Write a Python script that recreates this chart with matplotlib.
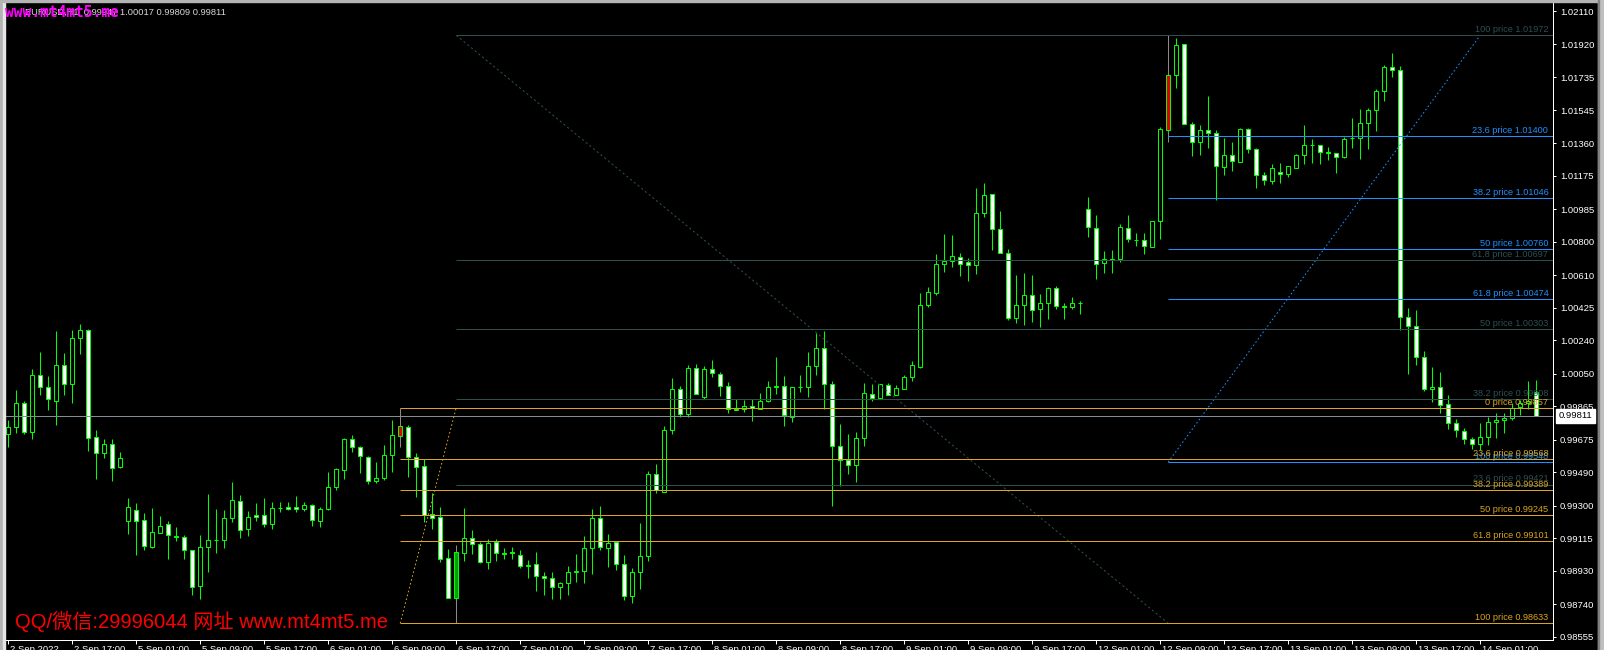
import matplotlib
matplotlib.use('Agg')
import matplotlib.pyplot as plt
from matplotlib.patches import Rectangle
from matplotlib.transforms import ScaledTranslation

plt.rcParams['font.family'] = ['Liberation Sans', 'Noto Sans CJK SC', 'DejaVu Sans']

# EURUSD H1, one row per bar: open, high, low, close
opens = [0.99706, 0.99748, 0.99882, 0.99721, 1.00041, 0.99973, 0.99897, 1.00098, 0.99990, 1.00251,
         1.00298, 0.99689, 0.99598, 0.99649, 0.99519, 0.99212, 0.99276, 0.99218, 0.99068, 0.99148,
         0.99195, 0.99127, 0.99121, 0.99047, 0.98843, 0.99064, 0.99104, 0.99104, 0.99229, 0.99325,
         0.99166, 0.99246, 0.99246, 0.99195, 0.99286, 0.99295, 0.99295, 0.99280, 0.99303, 0.99214,
         0.99284, 0.99405, 0.99502, 0.99678, 0.99632, 0.99579, 0.99439, 0.99456, 0.99587, 0.99697,
         0.99750, 0.99575, 0.99526, 0.99252, 0.99235, 0.99002, 0.98775, 0.99034, 0.99115, 0.99081,
         0.98983, 0.99093, 0.99030, 0.99036, 0.99019, 0.98960, 0.98968, 0.98901, 0.98888, 0.98837,
         0.98860, 0.98926, 0.98928, 0.99059, 0.99229, 0.99059, 0.99093, 0.98968, 0.98788, 0.98922,
         0.99013, 0.99481, 0.99380, 0.99729, 0.99962, 0.99820, 1.00081, 0.99916, 1.00075, 1.00047,
         0.99979, 0.99844, 0.99848, 0.99869, 0.99852, 0.99893, 0.99973, 0.99979, 0.99806, 0.99975,
         0.99977, 1.00092, 1.00194, 0.99990, 0.99642, 0.99558, 0.99530, 0.99683, 0.99933, 0.99914,
         0.99984, 0.99929, 0.99962, 1.00032, 1.00090, 1.00439, 1.00511, 1.00671, 1.00688, 1.00715,
         1.00683, 1.00666, 1.00961, 1.01069, 1.00870, 1.00734, 1.00365, 1.00439, 1.00495, 1.00416,
         1.00450, 1.00535, 1.00435, 1.00431, 1.00450, 1.00984, 1.00876, 1.00677, 1.00698, 1.00700,
         1.00876, 1.00808, 1.00810, 1.00772, 1.00916, 1.01434, 1.01745, 1.01920, 1.01466, 1.01364,
         1.01434, 1.01415, 1.01222, 1.01292, 1.01251, 1.01438, 1.01324, 1.01177, 1.01147, 1.01196,
         1.01182, 1.01217, 1.01292, 1.01347, 1.01347, 1.01309, 1.01302, 1.01281, 1.01387, 1.01387,
         1.01472, 1.01548, 1.01656, 1.01790, 1.01773, 1.00370, 1.00321, 1.00147, 0.99962, 0.99977,
         0.99876, 0.99768, 0.99725, 0.99678, 0.99649, 0.99689, 0.99774, 0.99787, 0.99797, 0.99860,
         0.99882, 0.99947]
highs = [0.99787, 0.99958, 0.99895, 1.00077, 1.00174, 1.00037, 1.00293, 1.00168, 1.00298, 1.00334,
         1.00302, 0.99731, 0.99679, 0.99679, 0.99606, 0.99343, 0.99314, 0.99257, 0.99286, 0.99242,
         0.99214, 0.99180, 0.99132, 0.99050, 0.99134, 0.99367, 0.99280, 0.99276, 0.99435, 0.99361,
         0.99271, 0.99314, 0.99343, 0.99322, 0.99322, 0.99322, 0.99356, 0.99324, 0.99310, 0.99291,
         0.99492, 0.99513, 0.99687, 0.99702, 0.99642, 0.99583, 0.99549, 0.99645, 0.99787, 0.99857,
         0.99759, 0.99598, 0.99564, 0.99371, 0.99293, 0.99053, 0.99077, 0.99288, 0.99163, 0.99096,
         0.99110, 0.99110, 0.99060, 0.99066, 0.99049, 0.98992, 0.99038, 0.98924, 0.98924, 0.98869,
         0.98958, 0.99026, 0.99129, 0.99282, 0.99299, 0.99140, 0.99096, 0.99021, 0.98949, 0.99202,
         0.99496, 0.99537, 0.99753, 1.00024, 0.99980, 1.00100, 1.00105, 1.00094, 1.00128, 1.00062,
         1.00003, 0.99907, 0.99901, 0.99909, 0.99939, 1.00009, 1.00145, 1.00035, 0.99973, 1.00043,
         1.00174, 1.00283, 1.00291, 1.00011, 0.99765, 0.99708, 0.99719, 0.99998, 0.99992, 0.99992,
         0.99998, 0.99986, 1.00043, 1.00121, 1.00507, 1.00541, 1.00730, 1.00844, 1.00838, 1.00736,
         1.00706, 1.01103, 1.01133, 1.01071, 1.00974, 1.00759, 1.00611, 1.00620, 1.00611, 1.00503,
         1.00543, 1.00548, 1.00450, 1.00484, 1.00463, 1.01054, 1.00952, 1.00747, 1.00755, 1.00900,
         1.00950, 1.00847, 1.00847, 1.00918, 1.01449, 1.01974, 1.01955, 1.01925, 1.01482, 1.01463,
         1.01627, 1.01434, 1.01391, 1.01366, 1.01444, 1.01448, 1.01334, 1.01194, 1.01241, 1.01245,
         1.01232, 1.01296, 1.01461, 1.01381, 1.01349, 1.01336, 1.01306, 1.01396, 1.01501, 1.01555,
         1.01557, 1.01665, 1.01803, 1.01873, 1.01798, 1.00422, 1.00412, 1.00179, 1.00086, 1.00060,
         0.99929, 0.99791, 0.99740, 0.99693, 0.99768, 0.99806, 0.99829, 0.99829, 0.99886, 0.99901,
         1.00009, 1.00017]
lows = [0.99636, 0.99715, 0.99708, 0.99678, 0.99929, 0.99844, 0.99759, 0.99929, 0.99886, 1.00162,
        0.99613, 0.99452, 0.99573, 0.99443, 0.99512, 0.99140, 0.99021, 0.99049, 0.99060, 0.99144,
        0.99000, 0.99100, 0.99000, 0.98792, 0.98773, 0.98926, 0.99034, 0.99062, 0.99210, 0.99119,
        0.99131, 0.99216, 0.99182, 0.99170, 0.99267, 0.99276, 0.99267, 0.99272, 0.99185, 0.99180,
        0.99278, 0.99390, 0.99450, 0.99608, 0.99488, 0.99422, 0.99432, 0.99447, 0.99490, 0.99636,
        0.99466, 0.99352, 0.99210, 0.99168, 0.98983, 0.98775, 0.98633, 0.98989, 0.99026, 0.98977,
        0.98943, 0.98989, 0.98998, 0.99000, 0.98949, 0.98892, 0.98818, 0.98795, 0.98769, 0.98769,
        0.98792, 0.98867, 0.98864, 0.98911, 0.99047, 0.98951, 0.98936, 0.98765, 0.98746, 0.98826,
        0.98987, 0.99375, 0.99380, 0.99708, 0.99806, 0.99806, 0.99933, 0.99905, 1.00033, 0.99926,
        0.99825, 0.99844, 0.99835, 0.99784, 0.99852, 0.99891, 0.99935, 0.99753, 0.99778, 0.99948,
        0.99920, 1.00043, 0.99848, 0.99301, 0.99414, 0.99481, 0.99437, 0.99642, 0.99897, 0.99905,
        0.99927, 0.99929, 0.99962, 1.00011, 1.00081, 1.00431, 1.00499, 1.00628, 1.00658, 1.00607,
        1.00579, 1.00617, 1.00942, 1.00755, 1.00734, 1.00355, 1.00340, 1.00327, 1.00346, 1.00317,
        1.00363, 1.00420, 1.00363, 1.00418, 1.00391, 1.00829, 1.00590, 1.00624, 1.00624, 1.00687,
        1.00796, 1.00777, 1.00732, 1.00772, 1.00815, 1.01368, 1.01673, 1.01466, 1.01288, 1.01292,
        1.01334, 1.01037, 1.01179, 1.01201, 1.01251, 1.01306, 1.01107, 1.01120, 1.01126, 1.01131,
        1.01169, 1.01217, 1.01239, 1.01245, 1.01239, 1.01264, 1.01192, 1.01273, 1.01330, 1.01268,
        1.01324, 1.01430, 1.01601, 1.01737, 1.00298, 1.00047, 1.00098, 0.99952, 0.99888, 0.99829,
        0.99734, 0.99693, 0.99649, 0.99623, 0.99617, 0.99645, 0.99683, 0.99712, 0.99790, 0.99816,
        0.99848, 0.99809]
closes = [0.99746, 0.99882, 0.99721, 1.00041, 0.99973, 0.99905, 1.00098, 0.99990, 1.00251, 1.00298,
          0.99683, 0.99598, 0.99649, 0.99513, 0.99570, 0.99295, 0.99212, 0.99074, 0.99149, 0.99187,
          0.99132, 0.99123, 0.99047, 0.98837, 0.99064, 0.99104, 0.99106, 0.99229, 0.99331, 0.99163,
          0.99235, 0.99235, 0.99197, 0.99286, 0.99288, 0.99284, 0.99282, 0.99303, 0.99218, 0.99280,
          0.99409, 0.99507, 0.99678, 0.99632, 0.99581, 0.99439, 0.99456, 0.99587, 0.99700, 0.99753,
          0.99575, 0.99522, 0.99250, 0.99233, 0.98996, 0.98775, 0.99036, 0.99115, 0.99081, 0.98983,
          0.99087, 0.99030, 0.99028, 0.99030, 0.98960, 0.98966, 0.98900, 0.98888, 0.98837, 0.98860,
          0.98922, 0.98930, 0.99059, 0.99229, 0.99064, 0.99089, 0.98968, 0.98788, 0.98922, 0.99013,
          0.99481, 0.99388, 0.99729, 0.99962, 0.99820, 1.00081, 0.99933, 1.00075, 1.00052, 0.99979,
          0.99850, 0.99848, 0.99869, 0.99856, 0.99893, 0.99973, 0.99979, 0.99816, 0.99973, 0.99977,
          1.00092, 1.00194, 0.99990, 0.99642, 0.99558, 0.99530, 0.99683, 0.99939, 0.99914, 0.99990,
          0.99927, 0.99967, 1.00032, 1.00098, 1.00439, 1.00512, 1.00671, 1.00688, 1.00717, 1.00671,
          1.00666, 1.00961, 1.01063, 1.00870, 1.00734, 1.00365, 1.00439, 1.00495, 1.00410, 1.00450,
          1.00535, 1.00435, 1.00431, 1.00450, 1.00454, 1.00885, 1.00671, 1.00700, 1.00700, 1.00882,
          1.00813, 1.00810, 1.00774, 1.00916, 1.01438, 1.01747, 1.01917, 1.01466, 1.01364, 1.01434,
          1.01415, 1.01230, 1.01292, 1.01258, 1.01438, 1.01326, 1.01177, 1.01150, 1.01217, 1.01182,
          1.01230, 1.01292, 1.01347, 1.01349, 1.01309, 1.01306, 1.01281, 1.01383, 1.01391, 1.01472,
          1.01548, 1.01656, 1.01790, 1.01773, 1.00374, 1.00321, 1.00143, 0.99962, 0.99977, 0.99873,
          0.99768, 0.99731, 0.99678, 0.99649, 0.99689, 0.99774, 0.99787, 0.99797, 0.99857, 0.99882,
          0.99895, 0.99811]

# bars that carry object anchors are painted differently
marked_bars = {49: '#e00000', 56: '#00a000', 145: '#e00000'}

time_labels = ['2 Sep 2022', '2 Sep 17:00', '5 Sep 01:00', '5 Sep 09:00', '5 Sep 17:00',
               '6 Sep 01:00', '6 Sep 09:00', '6 Sep 17:00', '7 Sep 01:00', '7 Sep 09:00',
               '7 Sep 17:00', '8 Sep 01:00', '8 Sep 09:00', '8 Sep 17:00', '9 Sep 01:00',
               '9 Sep 09:00', '9 Sep 17:00', '12 Sep 01:00', '12 Sep 09:00', '12 Sep 17:00',
               '13 Sep 01:00', '13 Sep 09:00', '13 Sep 17:00', '14 Sep 01:00']
price_ticks = [1.02110, 1.01920, 1.01735, 1.01545, 1.01360, 1.01175, 1.00985, 1.00800, 1.00610,
               1.00425, 1.00240, 1.00050, 0.99865, 0.99675, 0.99490, 0.99300, 0.99115, 0.98930,
               0.98740, 0.98555]
bid = 0.99811

# fibonacci objects: (level name, price)
gray_levels = [('100', 1.01972), ('61.8', 1.00697), ('50', 1.00303), ('38.2', 0.99908), ('23.6', 0.99421)]
gray_anchor = [(56, 1.01972), (145, 0.98633)]
orange_levels = [('0', 0.99857), ('23.6', 0.99568), ('38.2', 0.99389), ('50', 0.99245),
                 ('61.8', 0.99101), ('100', 0.98633)]
orange_anchor = [(49, 0.98633), (56, 0.99857)]
blue_levels = [('23.6', 1.01400), ('38.2', 1.01046), ('50', 1.00760), ('61.8', 1.00474), ('100', 0.99548)]
blue_anchor = [(145, 0.99548), (184, 1.01972)]

W, H = 1604, 650
fig = plt.figure(figsize=(W / 100, H / 100), dpi=100, facecolor='black')
ax = fig.add_axes([5 / W, 10 / H, 1548 / W, 637 / H])
ax.set_facecolor('black')
ax.set_xlim(-0.4, 193.1)
ax.set_ylim(0.985379, 1.021555)

lime = '#00ff00'
px = 0.72  # one pixel in points

# candles
for i in range(len(opens)):
    o, h, l, c = opens[i], highs[i], lows[i], closes[i]
    wick_col = '#8a8a8a' if i in marked_bars else lime
    ax.vlines(i, l, h, color=wick_col, lw=px, zorder=2)
    if i in marked_bars:
        fill = marked_bars[i]
    elif c > o:
        fill = 'black'
    else:
        fill = 'white'
    ax.bar(i, max(abs(c - o), 1e-6), bottom=min(o, c), width=0.45, color=fill,
           edgecolor=lime, linewidth=px, zorder=3)

ytr = ax.get_yaxis_transform()


def fib(levels, anchor, color, z, dash):
    x0 = min(anchor[0][0], anchor[1][0])
    for name, p in levels:
        ax.hlines(p, x0, 200, color=color, lw=px, zorder=z)
        ax.annotate(f'{name} price {p:.5f}', xy=(1, p), xycoords=ytr, xytext=(-3.4, 2.2),
                    textcoords='offset points', ha='right', va='baseline', fontsize=6.6,
                    color=color, zorder=z, annotation_clip=False)
    ax.plot([anchor[0][0], anchor[1][0]], [anchor[0][1], anchor[1][1]], color=color,
            lw=px, ls=dash, zorder=z)


fib(blue_levels, blue_anchor, '#1e90ff', 5, (0, (1.6, 2.4)))
fib(gray_levels, gray_anchor, '#2f4f4f', 6, (0, (2.2, 2.6)))
fib(orange_levels, orange_anchor, '#daa520', 7, (0, (1.6, 2.4)))

ax.axhline(bid, color='#848c94', lw=px, zorder=4)

# axes look
for s in ['left', 'top']:
    ax.spines[s].set_visible(False)
for s in ['right', 'bottom']:
    ax.spines[s].set_color('white')
    ax.spines[s].set_linewidth(px)

ax.yaxis.tick_right()
ax.set_yticks(price_ticks)
ax.set_yticklabels([f'{p:.5f}' for p in price_ticks])
ax.tick_params(axis='y', colors='white', labelsize=6.8, length=2.5, width=px, pad=2.5)

ax.set_xticks(list(range(0, 8 * len(time_labels), 8)))
ax.set_xticklabels(time_labels)
ax.tick_params(axis='x', colors='white', labelsize=6.8, length=3, width=px, pad=0.5)
for lab in ax.get_xticklabels():
    lab.set_ha('left')
    lab.set_transform(lab.get_transform() + ScaledTranslation(1.5 / 100, 0, fig.dpi_scale_trans))

ax.annotate(f'{bid:.5f}', xy=(1, bid), xycoords=ytr, xytext=(4.2, 0), textcoords='offset points',
            ha='left', va='center', fontsize=6.8, color='black', annotation_clip=False,
            bbox=dict(boxstyle='square,pad=0.25', fc='white', ec='white'), zorder=10)

# header and watermarks
fig.text(25 / W, 1 - 15 / H, 'EURUSD,H1  0.99947 1.00017 0.99809 0.99811', color='#d8d8d8',
         fontsize=6.7, va='baseline', zorder=5)
fig.text(5 / W, 1 - 17 / H, 'www.mt4mt5.me', color='#ff00ff', fontsize=10.5, fontweight='bold',
         family='DejaVu Sans Mono', va='baseline', zorder=6)
fig.text(15 / W, 1 - 628 / H, 'QQ/微信:29996044 网址 www.mt4mt5.me', color='#ff0000',
         fontsize=14.5, va='baseline', zorder=6)

# window frame
fig.patches.append(Rectangle((0, 0), 3 / W, 1, transform=fig.transFigure, color='#b4b4b4', zorder=0))
fig.patches.append(Rectangle((3 / W, 0), 1.5 / W, 1, transform=fig.transFigure, color='#e6e6e6', zorder=0))
fig.patches.append(Rectangle((0, 1 - 2 / H), 1, 2 / H, transform=fig.transFigure, color='#b4b4b4', zorder=0))
fig.patches.append(Rectangle((1598 / W, 0), 6 / W, 1, transform=fig.transFigure, color='#c0c0c0', zorder=0))
fig.patches.append(Rectangle((1598 / W, 0), 1.2 / W, 1, transform=fig.transFigure, color='#808080', zorder=0))

fig.savefig('out.png', dpi=100, facecolor='black')
